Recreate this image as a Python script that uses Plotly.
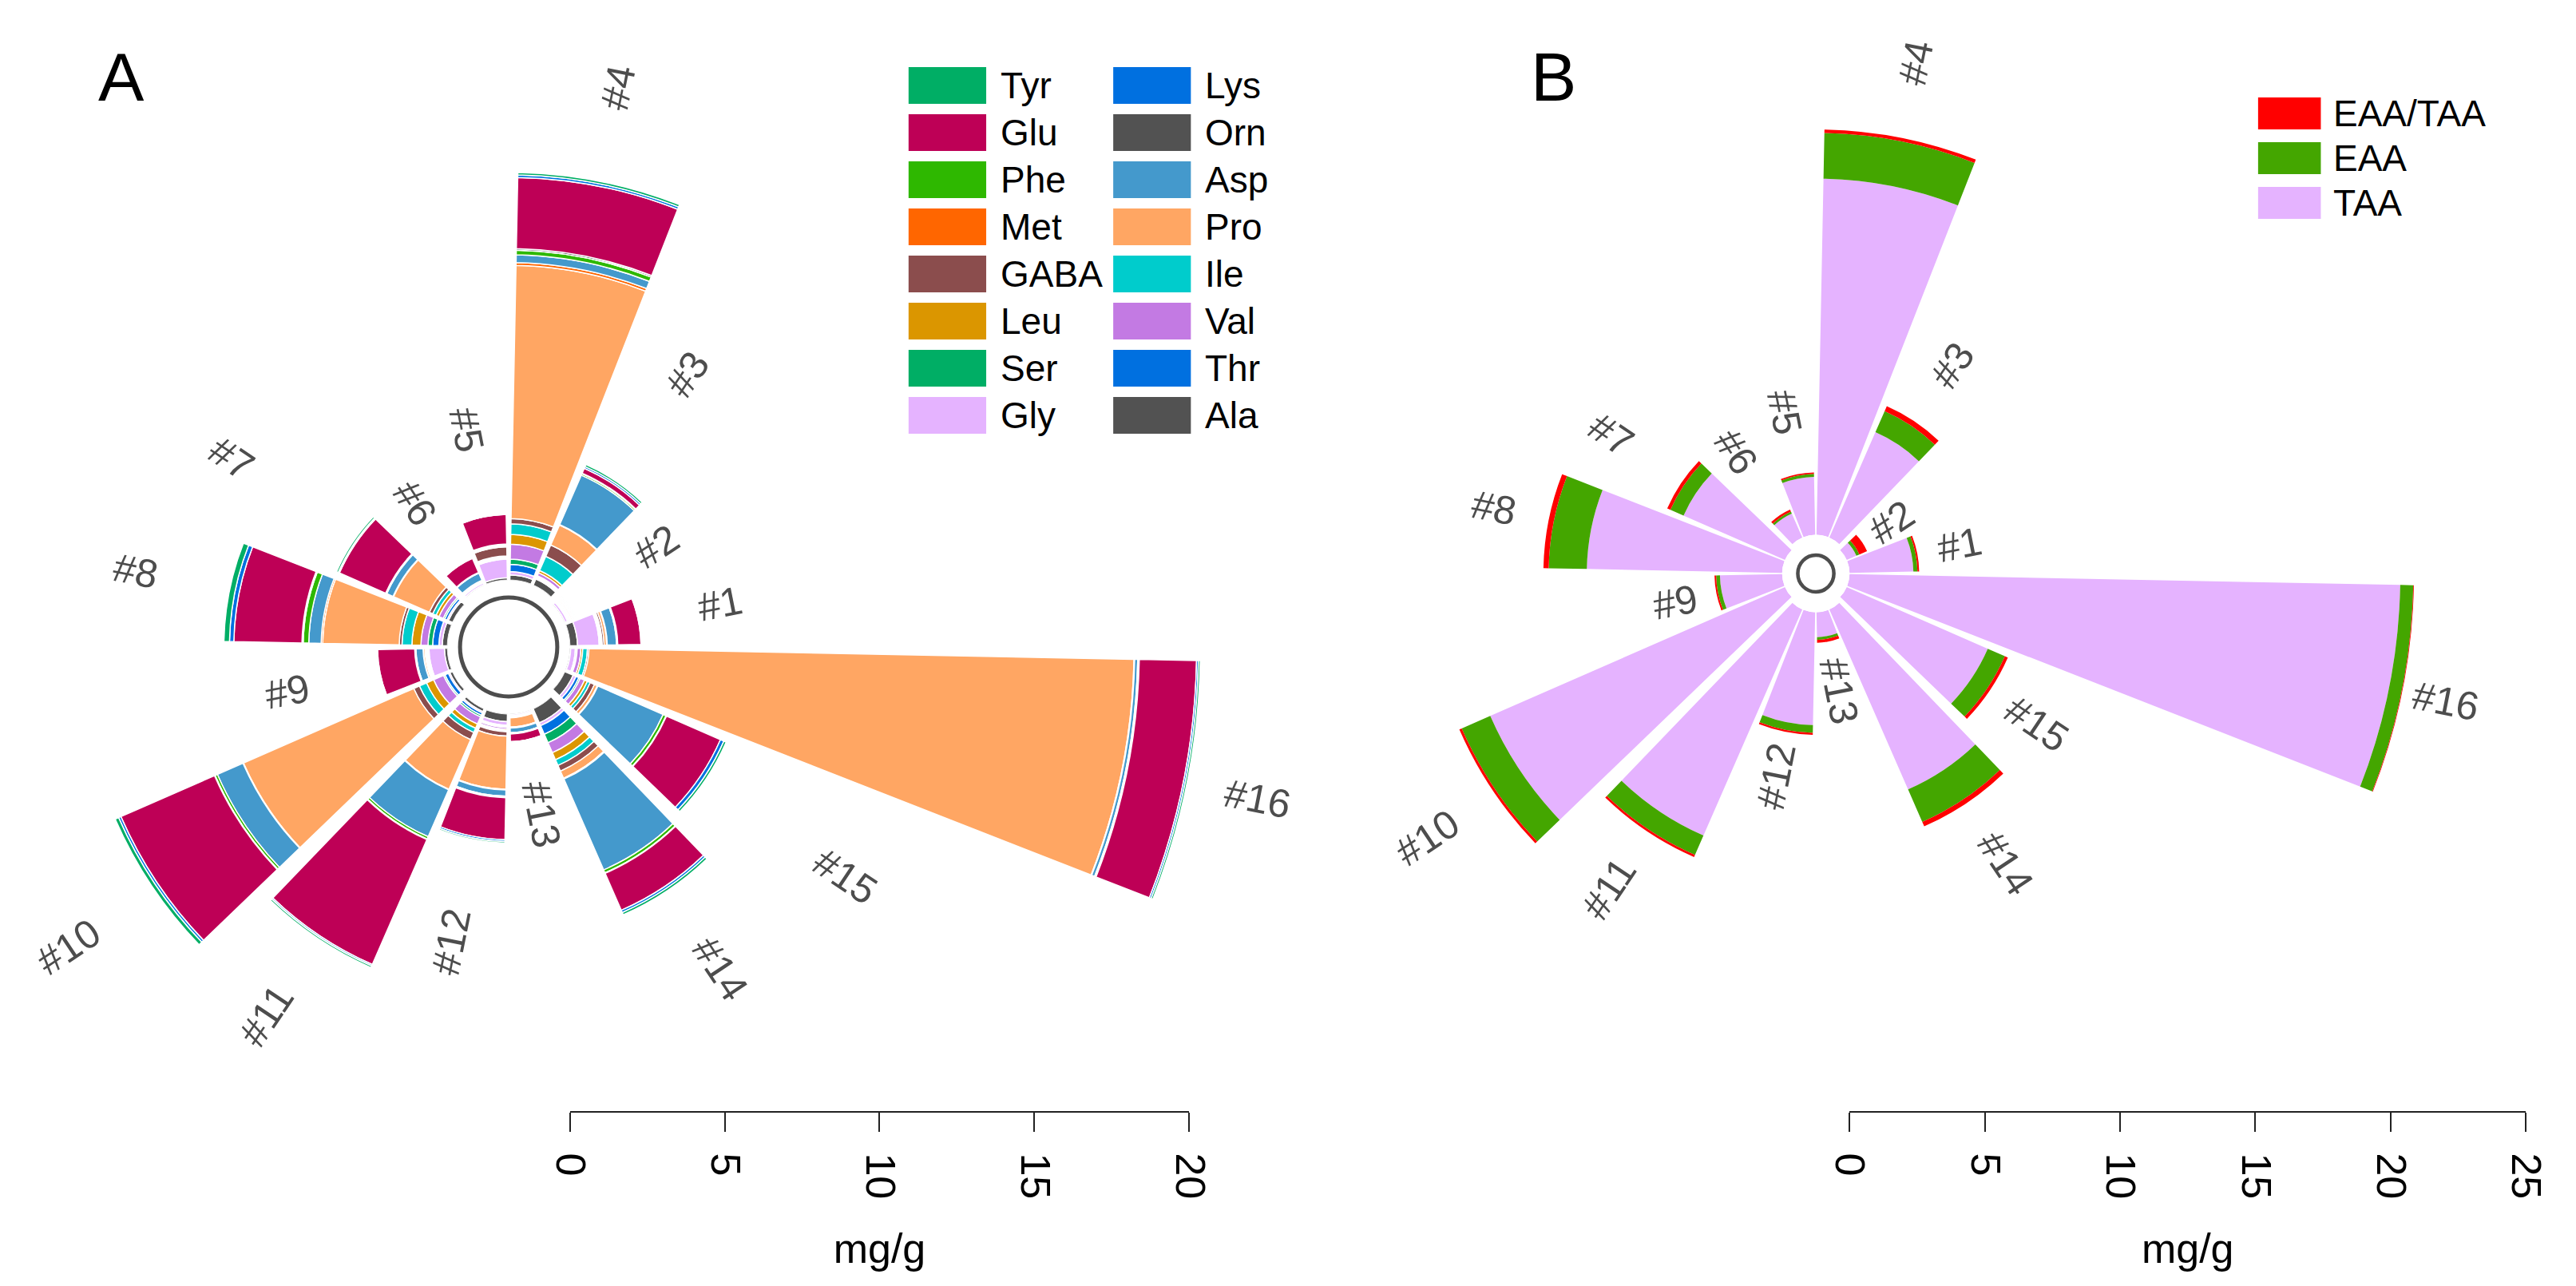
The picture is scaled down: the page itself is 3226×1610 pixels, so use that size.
import math
import plotly.graph_objects as go

W, H = 3226, 1610
FONT = "Liberation Sans, Arial, Helvetica, sans-serif"

# ---------------- data ----------------
SAMPLES = ["#1", "#2", "#3", "#4", "#5", "#6", "#7", "#8",
           "#9", "#10", "#11", "#12", "#13", "#14", "#15", "#16"]

# Panel A: amino acid contents (mg/g), samples #1..#16
ala  = [0.25, 0.02, 0.22, 0.17, 0.08, 0.02, 0.15, 0.17, 0.10, 0.10, 0.10, 0.25, 0.02, 0.50, 0.30, 0.03]
gly  = [0.70, 0.08, 0.04, 0.11, 0.60, 0.06, 0.05, 0.11, 0.50, 0.05, 0.05, 0.12, 0.04, 0.10, 0.10, 0.15]
thr  = [0.02, 0.02, 0.04, 0.23, 0.02, 0.01, 0.08, 0.20, 0.02, 0.12, 0.08, 0.04, 0.01, 0.30, 0.10, 0.04]
ser  = [0.02, 0.02, 0.04, 0.17, 0.02, 0.01, 0.05, 0.15, 0.02, 0.05, 0.06, 0.03, 0.01, 0.30, 0.05, 0.02]
val  = [0.02, 0.02, 0.10, 0.48, 0.02, 0.02, 0.15, 0.23, 0.03, 0.35, 0.25, 0.06, 0.01, 0.35, 0.15, 0.12]
leu  = [0.02, 0.02, 0.08, 0.32, 0.02, 0.01, 0.10, 0.29, 0.02, 0.25, 0.15, 0.04, 0.01, 0.25, 0.10, 0.06]
ile  = [0.02, 0.02, 0.50, 0.34, 0.02, 0.01, 0.12, 0.32, 0.02, 0.25, 0.15, 0.04, 0.01, 0.20, 0.10, 0.15]
gaba = [0.06, 0.03, 0.40, 0.17, 0.30, 0.01, 0.12, 0.09, 0.02, 0.20, 0.25, 0.14, 0.02, 0.20, 0.15, 0.05]
pro  = [0.08, 0.04, 0.70, 8.17, 0.04, 0.02, 1.26, 2.47, 0.05, 6.00, 1.75, 1.72, 0.30, 0.25, 0.10, 17.60]
met  = [0.02, 0.02, 0.02, 0.09, 0.01, 0.01, 0.02, 0.05, 0.01, 0.02, 0.02, 0.02, 0.03, 0.03, 0.02, 0.02]
asp  = [0.30, 0.03, 1.74, 0.25, 0.02, 0.25, 0.22, 0.40, 0.23, 0.90, 1.65, 0.20, 0.15, 3.20, 2.30, 0.10]
phe  = [0.02, 0.01, 0.05, 0.15, 0.01, 0.01, 0.02, 0.18, 0.02, 0.08, 0.08, 0.03, 0.02, 0.10, 0.10, 0.03]
orn  = [0.02, 0.01, 0.02, 0.05, 0.01, 0.01, 0.02, 0.04, 0.02, 0.02, 0.02, 0.02, 0.02, 0.02, 0.02, 0.02]
glu  = [0.75, 0.03, 0.17, 2.30, 0.95, 0.50, 1.63, 2.20, 1.20, 3.30, 4.40, 1.35, 0.25, 1.30, 1.90, 1.85]
lys  = [0.03, 0.01, 0.06, 0.08, 0.01, 0.01, 0.04, 0.14, 0.02, 0.08, 0.05, 0.06, 0.01, 0.08, 0.12, 0.06]
tyr  = [0.03, 0.01, 0.07, 0.08, 0.01, 0.01, 0.06, 0.18, 0.02, 0.12, 0.06, 0.05, 0.01, 0.08, 0.08, 0.06]

# Panel B: TAA, EAA (mg/g) and EAA/TAA ratio
taa     = [2.36, 0.39, 4.25, 13.16, 2.14, 0.97, 4.09, 7.22, 2.30, 11.89, 9.12, 4.17, 0.92, 7.26, 5.69, 20.36]
eaa     = [0.15, 0.12, 0.85, 1.69, 0.11, 0.08, 0.53, 1.41, 0.14, 1.15, 0.78, 0.29, 0.10, 1.31, 0.69, 0.48]
eaa_taa = [0.064, 0.31, 0.20, 0.128, 0.051, 0.082, 0.13, 0.195, 0.061, 0.097, 0.086, 0.07, 0.11, 0.18, 0.12, 0.024]

AXIS_A_TICKS = [0, 5, 10, 15, 20]
AXIS_B_TICKS = [0, 5, 10, 15, 20, 25]

# stacking order, innermost first
SERIES_A = [("Ala", ala), ("Gly", gly), ("Thr", thr), ("Ser", ser), ("Val", val),
            ("Leu", leu), ("Ile", ile), ("GABA", gaba), ("Pro", pro), ("Met", met),
            ("Asp", asp), ("Phe", phe), ("Orn", orn), ("Glu", glu), ("Lys", lys), ("Tyr", tyr)]
SERIES_B = [("TAA", taa), ("EAA", eaa), ("EAA/TAA", eaa_taa)]

# ---------------- styles ----------------
COLORS_A = {"Tyr": "#00AE65", "Glu": "#BE0056", "Phe": "#2EB800", "Met": "#FF6600",
            "GABA": "#8B4D4D", "Leu": "#DB9600", "Ser": "#00AE65", "Gly": "#E5B3FF",
            "Lys": "#0070E0", "Orn": "#525252", "Asp": "#4499CC", "Pro": "#FFA663",
            "Ile": "#00CCCC", "Val": "#C37AE3", "Thr": "#0070E0", "Ala": "#525252"}
COLORS_B = {"EAA/TAA": "#FF0000", "EAA": "#44A600", "TAA": "#E5B3FF"}
LEGEND_A_COLS = [["Tyr", "Glu", "Phe", "Met", "GABA", "Leu", "Ser", "Gly"],
                 ["Lys", "Orn", "Asp", "Pro", "Ile", "Val", "Thr", "Ala"]]
LEGEND_B = ["EAA/TAA", "EAA", "TAA"]

# panel geometry (pixels)
A_CX, A_CY, A_HOLE, A_SCALE = 612, 802, 78, 39.5
B_CX, B_CY, B_HOLE, B_SCALE = 2279, 710, 43, 34.5
ROTATION = 11.25
LABEL_R_A = [275, 227, 411, 714, 277, 216, 425, 485, 288, 676, 555, 376, 214, 484, 516, 973]
LABEL_R_B = [187, 116, 314, 652, 206, 183, 314, 418, 183, 596, 474, 259, 150, 436, 338, 819]
AXIS_Y = 1383

SQ = math.sqrt(0.5)
# each panel is drawn as four quarter-sector polar subplots sharing one pole,
# so long bars are not clipped by a small circular domain
SECTORS = [
    dict(sector=[-45, 45], bbox=(0, 1, -SQ, SQ), bars=[14, 15, 0, 1], RA=1000, RB=900),
    dict(sector=[45, 135], bbox=(-SQ, SQ, 0, 1), bars=[2, 3, 4, 5], RA=790, RB=700),
    dict(sector=[135, 225], bbox=(-1, 0, -SQ, SQ), bars=[6, 7, 8, 9], RA=600, RB=700),
    dict(sector=[225, 315], bbox=(-SQ, SQ, -1, 0), bars=[10, 11, 12, 13], RA=790, RB=700),
]


def clamp(v):
    return min(1.0, max(0.0, v))


def polar_domain(cx, cy, R, bb):
    x0 = cx + R * bb[0]
    x1 = cx + R * bb[1]
    ytop = cy - R * bb[3]
    ybot = cy - R * bb[2]
    return dict(x=[clamp(x0 / W), clamp(x1 / W)], y=[clamp(1 - ybot / H), clamp(1 - ytop / H)])


fig = go.Figure()
layout_polars = {}
n = 0
for panel in ("A", "B"):
    for sec in SECTORS:
        n += 1
        pid = "polar" if n == 1 else f"polar{n}"
        if panel == "A":
            cx, cy, hole, scale, R = A_CX, A_CY, A_HOLE, A_SCALE, sec["RA"]
            series, colors, lw = SERIES_A, COLORS_A, 1.5
        else:
            cx, cy, hole, scale, R = B_CX, B_CY, B_HOLE, B_SCALE, sec["RB"]
            series, colors, lw = SERIES_B, COLORS_B, 0
        for name, vals in series:
            r = [v if i in sec["bars"] else None for i, v in enumerate(vals)]
            fig.add_trace(go.Barpolar(
                r=r, theta=SAMPLES, name=name, subplot=pid, width=0.9,
                marker=dict(color=colors[name], line=dict(color="white", width=lw)),
                showlegend=False, hovertemplate="%{theta} " + name + ": %{r}<extra></extra>"))
        layout_polars[pid] = dict(
            domain=polar_domain(cx, cy, R, sec["bbox"]),
            sector=sec["sector"], hole=hole / R, bgcolor="rgba(0,0,0,0)",
            barmode="stack",
            radialaxis=dict(range=[0, (R - hole) / scale], visible=False),
            angularaxis=dict(type="category", rotation=ROTATION, direction="counterclockwise",
                             period=len(SAMPLES), visible=False))

fig.update_layout(**layout_polars)

# ---------- scale axes (mg/g) ----------
for k, (cx, hole, scale, ticks) in enumerate([(A_CX, A_HOLE, A_SCALE, AXIS_A_TICKS),
                                               (B_CX, B_HOLE, B_SCALE, AXIS_B_TICKS)]):
    xa = "x" if k == 0 else "x2"
    ya = "y" if k == 0 else "y2"
    x0 = cx + hole
    x1 = x0 + ticks[-1] * scale
    fig.add_trace(go.Scatter(x=[ticks[0], ticks[-1]], y=[0, 0], xaxis=xa, yaxis=ya,
                             mode="markers", marker=dict(opacity=0), showlegend=False,
                             hoverinfo="skip"))
    yb = 1 - AXIS_Y / H
    fig.update_layout(**{
        ("xaxis" if k == 0 else "xaxis2"): dict(
            domain=[x0 / W, x1 / W], range=[ticks[0], ticks[-1]], anchor=ya,
            showline=True, linecolor="#222222", linewidth=2, showgrid=False, zeroline=False,
            ticks="outside", ticklen=24, tickwidth=2, tickcolor="#222222",
            tickvals=ticks, tickangle=90, ticklabelstandoff=16,
            tickfont=dict(family=FONT, size=52, color="black"),
            title=dict(text="mg/g", font=dict(family=FONT, size=52, color="black"), standoff=44),
            fixedrange=True),
        ("yaxis" if k == 0 else "yaxis2"): dict(
            domain=[yb, yb + 0.01], range=[0, 1], visible=False, fixedrange=True, anchor=xa),
    })

# ---------- annotations / shapes ----------
annotations = []
shapes = []
for labels_r, cx, cy in ((LABEL_R_A, A_CX, A_CY), (LABEL_R_B, B_CX, B_CY)):
    for i, lab in enumerate(SAMPLES):
        phi = ROTATION + i * 360 / len(SAMPLES)
        rad = math.radians(phi)
        x = cx + labels_r[i] * math.cos(rad)
        y = cy - labels_r[i] * math.sin(rad)
        ccw = phi
        if 90 < phi < 270:
            ccw = phi - 180
        elif phi >= 270:
            ccw = phi - 360
        annotations.append(dict(x=x / W, y=1 - y / H, xref="paper", yref="paper",
                                text=lab, showarrow=False, textangle=-ccw,
                                xanchor="center", yanchor="middle",
                                font=dict(family=FONT, size=50, color="#4D4D4D")))

# panel letters
for txt, x, y in (("A", 118, 88), ("B", 1944, 88)):
    annotations.append(dict(x=x / W, y=1 - y / H, xref="paper", yref="paper", text=txt,
                            showarrow=False, xanchor="center", yanchor="middle",
                            font=dict(family=FONT, size=86, color="black")))

# central rings
for cx, cy, rr, lw in ((A_CX, A_CY, 62, 5), (B_CX, B_CY, 23, 4.5)):
    shapes.append(dict(type="circle", xref="paper", yref="paper",
                       x0=(cx - rr) / W, x1=(cx + rr) / W,
                       y0=1 - (cy + rr) / H, y1=1 - (cy - rr) / H,
                       line=dict(color="#4D4D4D", width=lw), fillcolor="rgba(0,0,0,0)"))

# legend A (two columns)
LEG_A_X = [1122, 1383]
LEG_A_TOP, LEG_A_PITCH, LEG_A_W, LEG_A_H = 76, 59, 99, 46
for c, col in enumerate(LEGEND_A_COLS):
    for rI, name in enumerate(col):
        top = LEG_A_TOP + rI * LEG_A_PITCH
        x0 = LEG_A_X[c]
        shapes.append(dict(type="rect", xref="paper", yref="paper",
                           x0=x0 / W, x1=(x0 + LEG_A_W) / W,
                           y0=1 - (top + LEG_A_H) / H, y1=1 - top / H,
                           fillcolor=COLORS_A[name], line=dict(width=0)))
        annotations.append(dict(x=(x0 + LEG_A_W + 16) / W, y=1 - (top + LEG_A_H / 2) / H,
                                xref="paper", yref="paper", text=name, showarrow=False,
                                xanchor="left", yanchor="middle",
                                font=dict(family=FONT, size=46, color="black")))

# legend B
LEG_B_X, LEG_B_TOP, LEG_B_PITCH, LEG_B_W, LEG_B_H = 2843, 114, 56, 80, 40
for rI, name in enumerate(LEGEND_B):
    top = LEG_B_TOP + rI * LEG_B_PITCH
    shapes.append(dict(type="rect", xref="paper", yref="paper",
                       x0=LEG_B_X / W, x1=(LEG_B_X + LEG_B_W) / W,
                       y0=1 - (top + LEG_B_H) / H, y1=1 - top / H,
                       fillcolor=COLORS_B[name], line=dict(width=0)))
    annotations.append(dict(x=(LEG_B_X + LEG_B_W + 14) / W, y=1 - (top + LEG_B_H / 2) / H,
                            xref="paper", yref="paper", text=name, showarrow=False,
                            xanchor="left", yanchor="middle",
                            font=dict(family=FONT, size=46, color="black")))

fig.update_layout(width=W, height=H, margin=dict(l=0, r=0, t=0, b=0, pad=0),
                  paper_bgcolor="white", plot_bgcolor="white", showlegend=False,
                  font=dict(family=FONT), annotations=annotations, shapes=shapes)

fig.write_html("out.html")
